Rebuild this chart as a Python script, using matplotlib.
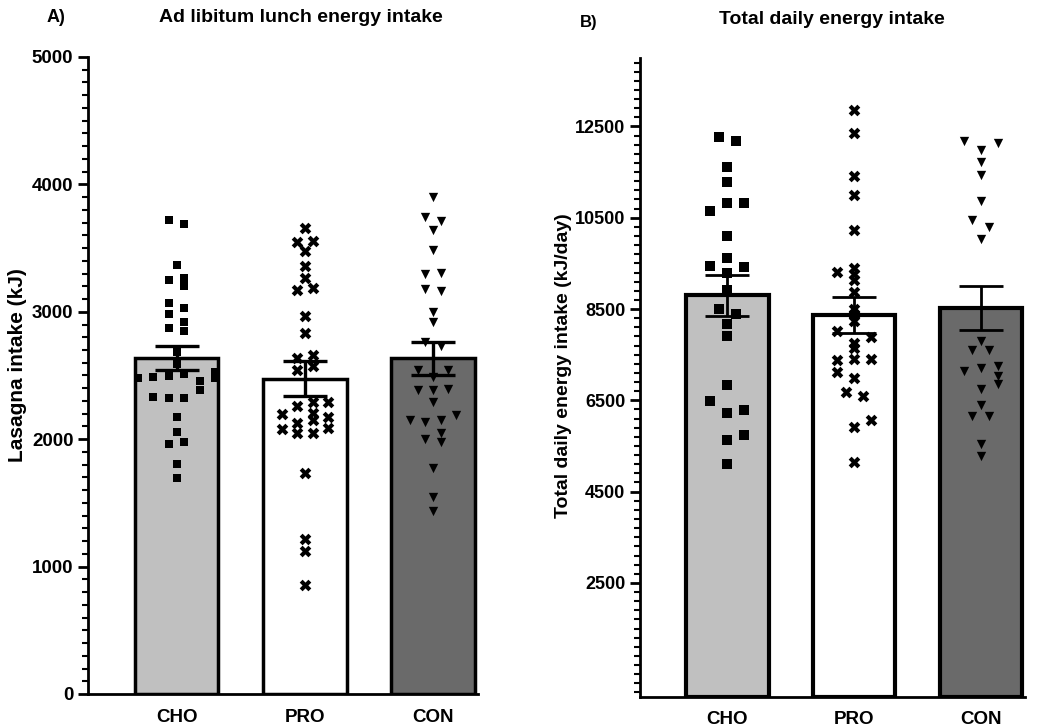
import matplotlib
matplotlib.use("Agg")
import matplotlib.pyplot as plt
import numpy as np
from matplotlib.ticker import MultipleLocator, FixedLocator

plt.rcParams['font.family'] = ['Liberation Sans', 'DejaVu Sans']
plt.rcParams['font.weight'] = 'bold'

# ---------------- data ----------------
groups = ["CHO", "PRO", "CON"]
bar_colors = ["#c0c0c0", "#ffffff", "#6a6a6a"]
markers = ["s", "X", "v"]

lunch_mean = [2640, 2475, 2635]
lunch_sem = [95, 137, 130]
daily_mean = [8800, 8376, 8525]
daily_sem = [446, 396, 477]

# Ad libitum lunch energy intake (kJ), individual participants
lunch_CHO = [3720, 3689, 3367, 3250, 3265, 3202, 3066, 3030, 2982, 2873, 2922, 2849,
             2687, 2590, 2480, 2490, 2498, 2512, 2527, 2480, 2457, 2386, 2334, 2323,
             2323, 2174, 2059, 1962, 1980, 1805, 1698]
lunch_CHO_jit = [-1, 1, 0, -1, 1, 1, -1, 1, -1, -1, 1, 1,
                 0, 0, -5, -3, -1, 1, 5, 5, 3, 3, -3, -1,
                 1, 0, 0, -1, 1, 0, 0]
lunch_PRO = [3655, 3550, 3556, 3480, 3356, 3267, 3168, 3186, 2970, 2831, 2635, 2661,
             2543, 2575, 2295, 2295, 2260, 2198, 2208, 2172, 2151, 2124, 2077, 2085,
             2046, 2051, 1737, 1214, 1125, 855]
lunch_PRO_jit = [0, -1, 1, 0, 0, 0, -1, 1, 0, 0, -1, 1,
                 -1, 1, 1, 3, -1, -3, 1, 3, 1, -1, -3, 3,
                 -1, 1, 0, 0, 0, 0]
lunch_CON = [3905, 3746, 3710, 3645, 3485, 3294, 3302, 3176, 3163, 3001, 2922, 2760,
             2728, 2540, 2540, 2487, 2386, 2386, 2396, 2295, 2150, 2135, 2150, 2190,
             2046, 1999, 1980, 1771, 1549, 1439]
lunch_CON_jit = [0, -1, 1, 0, 0, -1, 1, -1, 1, 0, 0, -1,
                 1, -2, 2, 0, -2, 0, 2, 0, -3, -1, 1, 3,
                 1, -1, 1, 0, 0, 0]

# Total daily energy intake (kJ/day), individual participants
daily_CHO = [12271, 12174, 11619, 11287, 10814, 10814, 10644, 10090, 9611, 9447, 9411,
             9292, 8908, 8510, 8400, 8170, 7910, 6839, 6485, 6232, 6285, 5620, 5731, 5101]
daily_CHO_jit = [-1, 1, 0, 0, 0, 2, -2, 0, 0, -2, 2,
                 0, 0, -1, 1, 0, 0, 0, -2, 0, 2, 0, 2, 0]
daily_PRO = [12861, 12366, 11420, 10992, 10238, 9314, 9389, 9278, 9130, 8870, 8502,
             8391, 8243, 8021, 7888, 7762, 7652, 7394, 7415, 7415, 7112, 6986, 6676,
             6596, 6063, 5915, 5155]
daily_PRO_jit = [0, 0, 0, 0, 0, -2, 0, 0, 0, 0, 0,
                 0, 0, -2, 2, 0, 0, -2, 0, 2, -2, 0, -1,
                 1, 2, 0, 0]
daily_CON = [12174, 12145, 11990, 11715, 11446, 10877, 10460, 10298, 10043, 7808, 7600,
             7600, 7142, 7207, 7256, 7034, 6850, 6740, 6396, 6166, 6166, 5545, 5280]
daily_CON_jit = [-2, 2, 0, 0, 0, 0, -1, 1, 0, 0, -1,
                 1, -2, 0, 2, 2, 2, 0, 0, -1, 1, 0, 0]

lunch_pts = [lunch_CHO, lunch_PRO, lunch_CON]
lunch_jit = [lunch_CHO_jit, lunch_PRO_jit, lunch_CON_jit]
daily_pts = [daily_CHO, daily_PRO, daily_CON]
daily_jit = [daily_CHO_jit, daily_PRO_jit, daily_CON_jit]

lunch_yticks = [0, 1000, 2000, 3000, 4000, 5000]
daily_yticks = [2500, 4500, 6500, 8500, 10500, 12500]

# ---------------- figure ----------------
W, H = 1050, 727
fig = plt.figure(figsize=(W / 100, H / 100), dpi=100)


def px_ax(x0, x1, ytop, ybot):
    return fig.add_axes([x0 / W, 1 - ybot / H, (x1 - x0) / W, (ybot - ytop) / H])


axA = px_ax(88, 478, 57, 694)
axB = px_ax(640, 1025, 58, 697)


def draw(ax, means, sems, pts, jits, step, msizes, elw, capsize, edge_lw, pad):
    x = np.arange(len(groups))
    ax.bar(x, means, width=0.65, color=bar_colors, edgecolor="black",
           linewidth=edge_lw, zorder=1)
    for i in range(len(groups)):
        xs = x[i] + np.array(jits[i]) * step
        ax.scatter(xs, pts[i], marker=markers[i], s=msizes[i], color="black",
                   linewidths=0, zorder=3)
    ax.errorbar(x, means, yerr=sems, fmt="none", ecolor="black", elinewidth=elw,
                capsize=capsize, capthick=elw, zorder=4)
    ax.set_xticks(x)
    ax.set_xticklabels(groups, fontsize=13.5, fontweight="bold")
    ax.tick_params(axis="x", length=0, pad=pad)
    ax.set_xlim(-0.69, 2.35)
    for s in ["top", "right"]:
        ax.spines[s].set_visible(False)
    for s in ["left", "bottom"]:
        ax.spines[s].set_linewidth(2)
    ax.tick_params(axis="y", which="major", length=7, width=2, labelsize=13.5)
    ax.tick_params(axis="y", which="minor", length=4, width=1.5)


draw(axA, lunch_mean, lunch_sem, lunch_pts, lunch_jit, 0.06,
     [40, 70, 45], 2.4, 16, 2.5, 11)
axA.set_ylim(0, 5000)
axA.yaxis.set_major_locator(FixedLocator(lunch_yticks))
axA.yaxis.set_minor_locator(MultipleLocator(100))
axA.set_yticklabels([str(v) for v in lunch_yticks], fontweight="bold", fontsize=13.5)

draw(axB, daily_mean, daily_sem, daily_pts, daily_jit, 0.067,
     [45, 70, 45], 2.0, 16, 3.0, 10)
axB.set_ylim(0, 14000)
axB.yaxis.set_major_locator(FixedLocator(daily_yticks))
axB.yaxis.set_minor_locator(FixedLocator(np.arange(100, 14001, 200)))
axB.set_yticklabels([str(v) for v in daily_yticks], fontweight="bold", fontsize=13)

# titles, labels
fig.text(56 / W, 1 - 18 / H, "A)", fontsize=13, fontweight="bold", ha="center", va="center")
fig.text(301 / W, 1 - 18 / H, "Ad libitum lunch energy intake", fontsize=14,
         fontweight="bold", ha="center", va="center")
fig.text(589 / W, 1 - 22 / H, "B)", fontsize=12, fontweight="bold", ha="center", va="center")
fig.text(832 / W, 1 - 20 / H, "Total daily energy intake", fontsize=14,
         fontweight="bold", ha="center", va="center")
fig.text(18 / W, 1 - 365 / H, "Lasagna intake (kJ)", fontsize=15, fontweight="bold",
         rotation=90, ha="center", va="center")
fig.text(563 / W, 1 - 366 / H, "Total daily energy intake (kJ/day)", fontsize=14,
         fontweight="bold", rotation=90, ha="center", va="center")

fig.savefig("out.png", dpi=100)
